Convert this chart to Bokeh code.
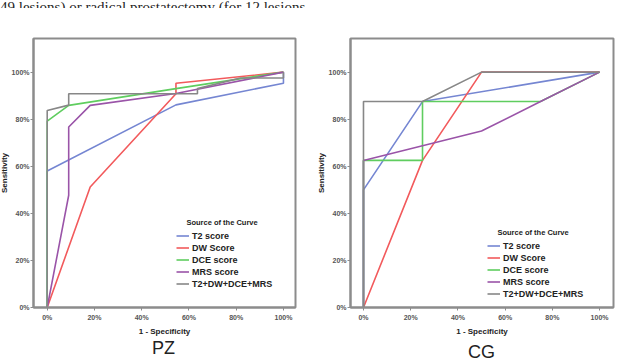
from bokeh.plotting import figure
from bokeh.models import Range1d, Legend, LegendItem, Div, NumeralTickFormatter, FixedTicker
from bokeh.layouts import column, row
from bokeh.embed import file_html
from bokeh.resources import INLINE

# ROC curves, peripheral zone (PZ)
pz_t2_fpr = [0, 0, 0.545, 1, 1]
pz_t2_sens = [0, 0.58, 0.861, 0.953, 1]
pz_dw_fpr = [0, 0.182, 0.545, 0.545, 1]
pz_dw_sens = [0, 0.512, 0.908, 0.953, 1]
pz_dce_fpr = [0, 0, 0.091, 0.545, 1]
pz_dce_sens = [0, 0.792, 0.859, 0.93, 1]
pz_mrs_fpr = [0, 0.091, 0.091, 0.182, 0.545, 1]
pz_mrs_sens = [0, 0.477, 0.767, 0.859, 0.909, 1]
pz_all_fpr = [0, 0, 0.091, 0.091, 0.636, 0.636, 0.818, 1, 1]
pz_all_sens = [0, 0.837, 0.86, 0.908, 0.908, 0.93, 0.975, 0.975, 1]

# ROC curves, central gland (CG)
cg_t2_fpr = [0, 0, 0.25, 1]
cg_t2_sens = [0, 0.5, 0.875, 1]
cg_dw_fpr = [0, 0.25, 0.5, 1]
cg_dw_sens = [0, 0.625, 1, 1]
cg_dce_fpr = [0, 0, 0.25, 0.25, 0.75, 1]
cg_dce_sens = [0, 0.625, 0.625, 0.875, 0.875, 1]
cg_mrs_fpr = [0, 0, 0.5, 0.75, 1]
cg_mrs_sens = [0, 0.625, 0.75, 0.875, 1]
cg_all_fpr = [0, 0, 0.25, 0.5, 1]
cg_all_sens = [0, 0.875, 0.875, 1, 1]

series_names = ["T2 score", "DW Score", "DCE score", "MRS score", "T2+DW+DCE+MRS"]
series_colors = ["#7586d2", "#f25a5c", "#5fcd5f", "#9a54a8", "#878787"]
tick_values = [0, 0.2, 0.4, 0.6, 0.8, 1.0]

FONT = "Liberation Sans"


def roc_panel(curves, width, border_left, border_right, x_range, y_range,
              legend_loc, margin):
    p = figure(width=width, height=330, output_backend="svg", toolbar_location=None,
               x_range=Range1d(*x_range), y_range=Range1d(*y_range),
               min_border_left=border_left, min_border_right=border_right,
               min_border_top=30, min_border_bottom=30, margin=margin)
    p.background_fill_color = "white"
    p.border_fill_color = "white"
    p.outline_line_color = "#8c8c8c"
    p.outline_line_width = 2
    p.xgrid.visible = False
    p.ygrid.visible = False

    for ax in (p.xaxis[0], p.yaxis[0]):
        ax.ticker = FixedTicker(ticks=tick_values)
        ax.formatter = NumeralTickFormatter(format="0%")
        ax.minor_tick_line_color = None
        ax.major_tick_in = 0
        ax.major_tick_out = 3
        ax.major_tick_line_color = "#8c8c8c"
        ax.axis_line_color = "#8c8c8c"
        ax.axis_line_width = 2
        ax.major_label_text_font = FONT
        ax.major_label_text_font_size = "7px"
        ax.major_label_text_font_style = "bold"
        ax.major_label_text_color = "#555555"
        ax.major_label_standoff = 1
        ax.axis_label_text_font = FONT
        ax.axis_label_text_font_size = "8px"
        ax.axis_label_text_font_style = "bold"
        ax.axis_label_text_color = "#222222"
        ax.axis_label_standoff = 0
    p.xaxis.axis_label = "1 - Specificity"
    p.xaxis.axis_label_standoff = 3
    p.xaxis.major_label_standoff = 3
    p.yaxis.axis_label = "Sensitivity"

    items = []
    for (fpr, sens), name, color in zip(curves, series_names, series_colors):
        r = p.line(fpr, sens, line_color=color, line_width=1.6)
        items.append(LegendItem(label=name, renderers=[r]))

    legend = Legend(items=items, location=legend_loc,
                    title="\u00a0\u00a0\u00a0\u00a0\u00a0Source of the Curve",
                    title_text_font=FONT, title_text_font_size="7.5px",
                    title_text_font_style="bold", title_text_color="#222222",
                    title_standoff=3,
                    label_text_font=FONT, label_text_font_size="9px",
                    label_text_font_style="bold", label_text_color="#222222",
                    glyph_width=13, glyph_height=11, label_height=11,
                    label_standoff=3, spacing=1, padding=0, margin=0,
                    border_line_alpha=0, background_fill_alpha=0)
    p.add_layout(legend, "center")
    return p


def zone_label(text, width, left, top):
    html = ('<div style="font-family:\'Liberation Sans\';font-size:18px;line-height:18px;'
            'color:#222222;margin-left:%dpx;margin-top:%dpx;white-space:nowrap">%s</div>'
            % (left, top, text))
    return Div(text=html, width=width, height=23, margin=(0, 0, 0, 0))


left = roc_panel([(pz_t2_fpr, pz_t2_sens), (pz_dw_fpr, pz_dw_sens),
                  (pz_dce_fpr, pz_dce_sens), (pz_mrs_fpr, pz_mrs_sens),
                  (pz_all_fpr, pz_all_sens)],
                 width=316, border_left=33, border_right=17,
                 x_range=(-0.058, 1.051), y_range=(0, 1.143),
                 legend_loc=(143, 18), margin=(0, 0, 0, -4))

right = roc_panel([(cg_t2_fpr, cg_t2_sens), (cg_dw_fpr, cg_dw_sens),
                   (cg_dce_fpr, cg_dce_sens), (cg_mrs_fpr, cg_mrs_sens),
                   (cg_all_fpr, cg_all_sens)],
                  width=305, border_left=38, border_right=4,
                  x_range=(-0.055, 1.059), y_range=(0, 1.143),
                  legend_loc=(137, 8), margin=(0, 0, 0, 0))

caption = Div(
    text=('<div style="font-family:\'Liberation Serif\';font-size:15px;line-height:15px;'
          'white-space:nowrap;margin-top:-9px;color:#222222">'
          '49 lesions) or radical prostatectomy (for 12 lesions</div>'),
    width=617, height=8, margin=(0, 0, 0, 0), styles={"overflow": "hidden"})

zones = row(zone_label("PZ", 312, 152, 1), zone_label("CG", 305, 156, 5), spacing=0)

page = column(caption, row(left, right, spacing=0), zones, spacing=0)

open("out.html", "w").write(file_html(page, INLINE))
